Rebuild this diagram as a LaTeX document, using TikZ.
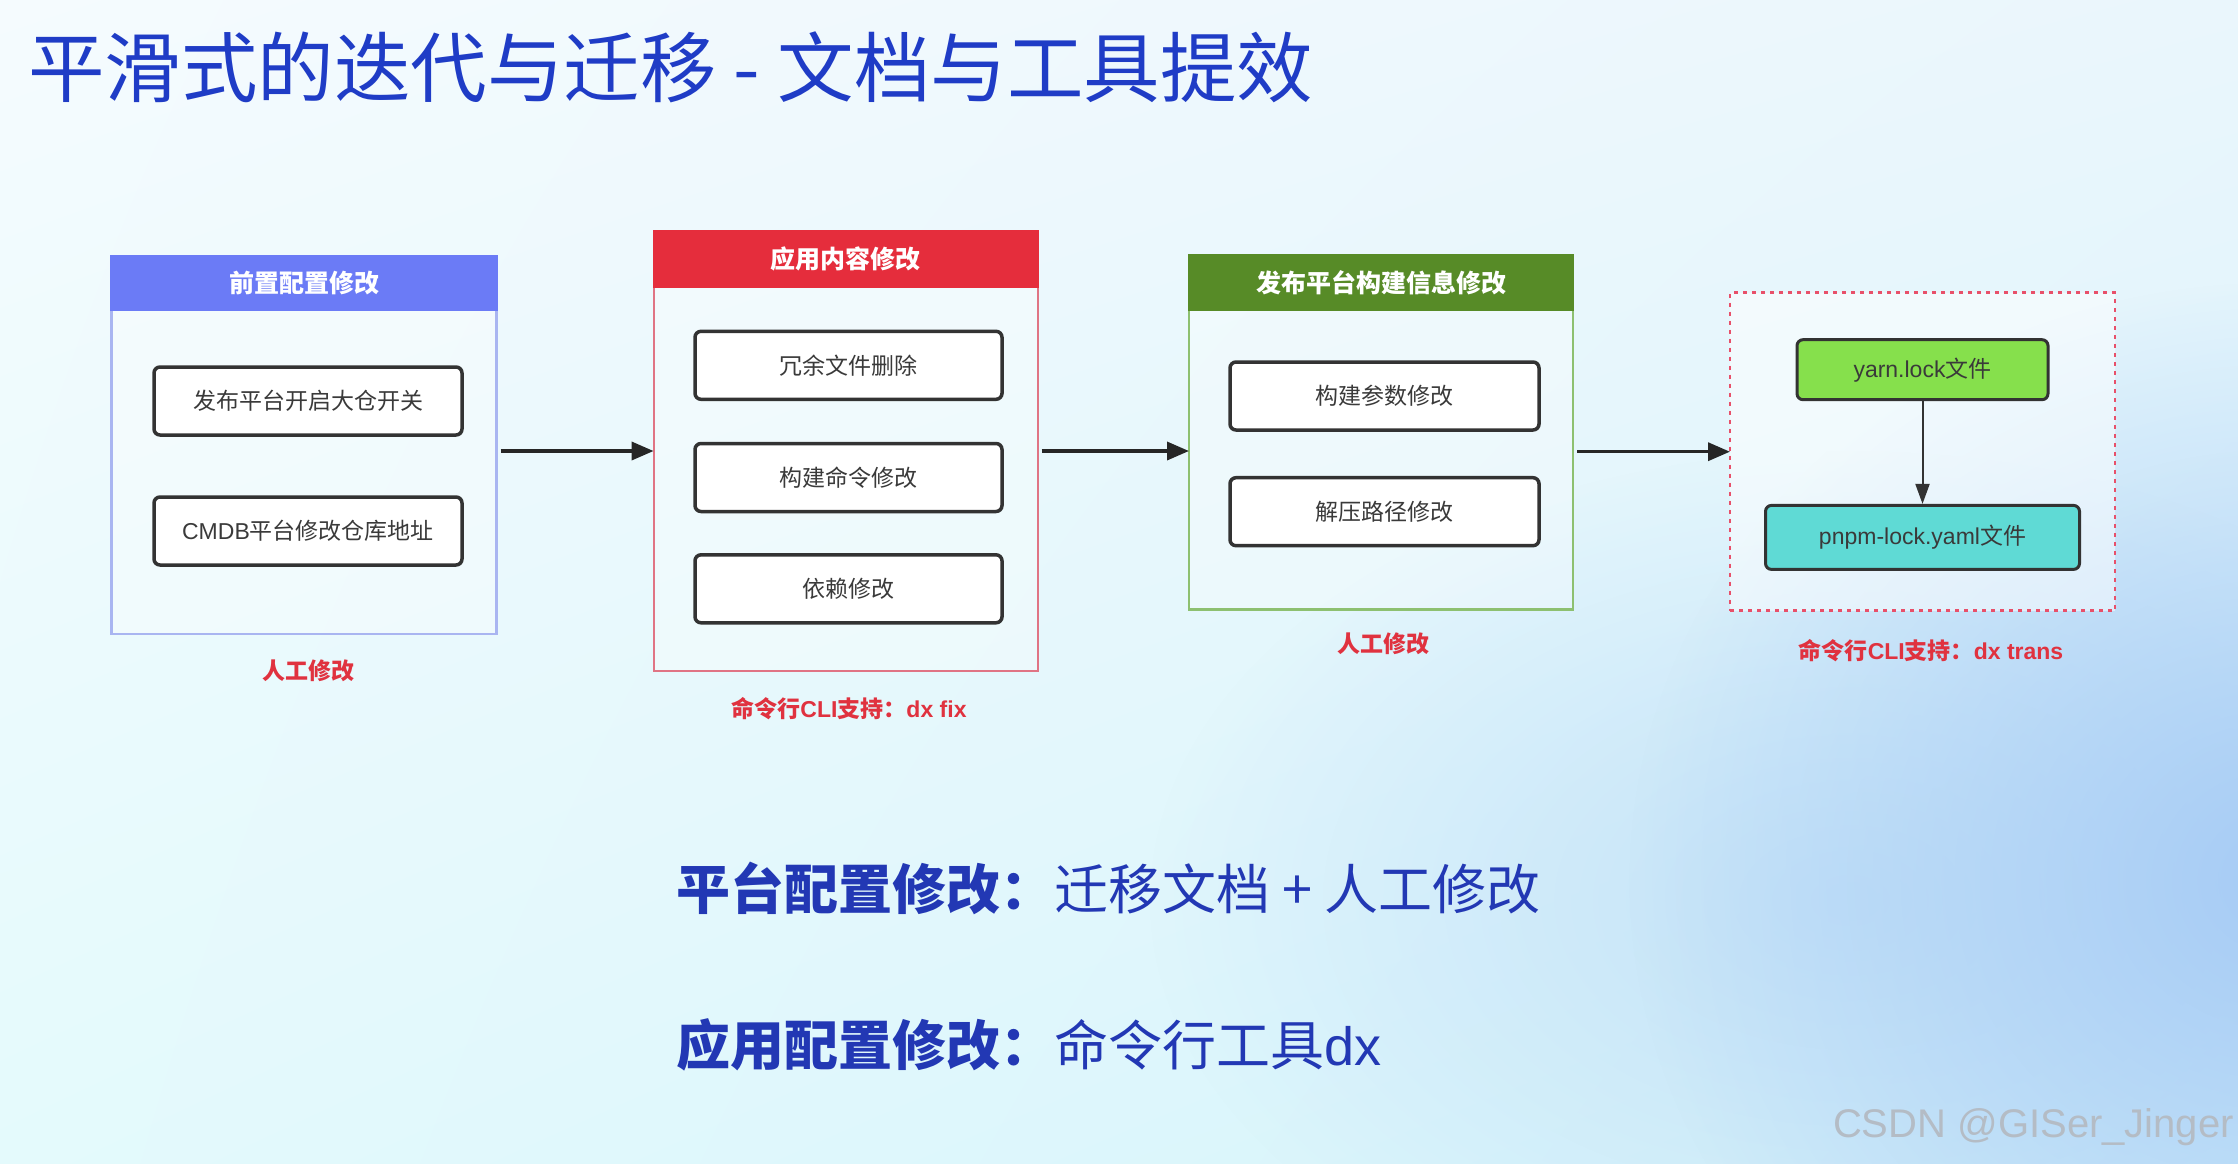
\documentclass[tikz,border=0pt]{standalone}
\usepackage{fontspec}
\setmainfont{Noto Sans CJK SC}
\newfontfamily\lat{Liberation Sans}
\usetikzlibrary{arrows.meta,shadings,fadings}
\definecolor{titleblue}{HTML}{1F3CC6}
\definecolor{bottomblue}{HTML}{2238B4}
\definecolor{hdblue}{HTML}{6B7BF6}
\definecolor{hdred}{HTML}{E52D3C}
\definecolor{hdgreen}{HTML}{578B27}
\definecolor{bdblue}{HTML}{A9B5F1}
\definecolor{bdred}{HTML}{E07484}
\definecolor{bdgreen}{HTML}{8DC070}
\definecolor{dashred}{HTML}{E8506A}
\definecolor{labred}{HTML}{E0323F}
\definecolor{boxline}{HTML}{333333}
\definecolor{innertext}{HTML}{3A3A3A}
\definecolor{yarngreen}{HTML}{86E04C}
\definecolor{pnpmcyan}{HTML}{5FDAD5}
\definecolor{bgUL}{HTML}{F5FBFE}
\definecolor{bgUR}{HTML}{EAF6FC}
\definecolor{bgLL}{HTML}{E4FAFC}
\definecolor{bgLR}{HTML}{D4F2FB}
\definecolor{bgblob}{HTML}{A6CBF5}
\definecolor{bgblobb}{HTML}{C4E2F8}
\definecolor{wmgray}{HTML}{B4BCC5}
\tikzfading[name=blobfade, inner color=transparent!0, outer color=transparent!100]
\begin{document}
\begin{tikzpicture}[x=1pt,y=-1pt,
  outerbox/.style={draw, line width=2.2pt, fill=white, fill opacity=0.3, text opacity=1, outer sep=0pt, inner sep=0pt},
  header/.style={line width=2.2pt, outer sep=0pt, text=white, font=\fontsize{25}{30}\selectfont\bfseries},
  inbox/.style={draw=boxline, line width=3.5pt, rounded corners=6pt, fill=white, text=innertext,
    font=\fontsize{23}{28}\selectfont, minimum height=68pt},
  lab/.style={text=labred, font=\fontsize{23}{28}\selectfont\bfseries},
  flow/.style={line width=3.5pt, draw=black!85, -{Triangle[length=22pt,width=18pt]}, shorten <=4pt},
  bigtext/.style={anchor=west, inner sep=0pt, text=bottomblue, font=\fontsize{54}{60}\selectfont}
]
\useasboundingbox (0,0) rectangle (2238,1163);
\shade[upper left=bgUL, upper right=bgUR, lower left=bgLL, lower right=bgLR] (0,0) rectangle (2238,1163);
\begin{scope}
  \clip (0,0) rectangle (2238,1163);
  \fill[bgblobb, path fading=blobfade] (1850,900) ellipse (700 and 450);
  \fill[bgblob, path fading=blobfade] (2280,880) ellipse (650 and 600);
\end{scope}

% title
\node[anchor=west, inner sep=0pt, text=titleblue, font=\fontsize{76.5}{80}\selectfont] (title) at (28,67)
  {平滑式的迭代与迁移 - 文档与工具提效};

% box 1
\node[outerbox, draw=bdblue, minimum width=385pt, minimum height=378pt] (box1) at (304,444.6) {};
\node[header, fill=hdblue, draw=hdblue, minimum width=385pt, minimum height=54pt, anchor=north] (h1) at (box1.north) {前置配置修改};
\node[inbox, minimum width=308pt] (b1a) at (308,401) {发布平台开启大仓开关};
\node[inbox, minimum width=308pt] (b1b) at (308,531) {{\lat CMDB}平台修改仓库地址};
\node[lab] (l1) at (308,671) {人工修改};

% box 2
\node[outerbox, draw=bdred, minimum width=384pt, minimum height=440pt] (box2) at (845.6,451) {};
\node[header, fill=hdred, draw=hdred, minimum width=384pt, minimum height=56pt, anchor=north] (h2) at (box2.north) {应用内容修改};
\node[inbox, minimum width=307pt] (b2a) at (848.5,365.3) {冗余文件删除};
\node[inbox, minimum width=307pt] (b2b) at (848.5,477.5) {构建命令修改};
\node[inbox, minimum width=307pt] (b2c) at (848.5,588.8) {依赖修改};
\node[lab] (l2) at (849,709) {命令行{\lat CLI}支持：{\lat dx fix}};

% box 3
\node[outerbox, draw=bdgreen, minimum width=384pt, minimum height=354pt] (box3) at (1381,432.5) {};
\node[header, fill=hdgreen, draw=hdgreen, minimum width=384pt, minimum height=54pt, anchor=north] (h3) at (box3.north) {发布平台构建信息修改};
\node[inbox, minimum width=309pt] (b3a) at (1384.5,396) {构建参数修改};
\node[inbox, minimum width=309pt] (b3b) at (1384.5,511.7) {解压路径修改};
\node[lab] (l3) at (1383,644) {人工修改};

% box 4
\node[draw=dashred, line width=2.5pt, dash pattern=on 4pt off 5pt, fill=white, fill opacity=0.5,
  outer sep=0pt, minimum width=385pt, minimum height=318pt] (box4) at (1922.5,451.7) {};
\node[inbox, fill=yarngreen, minimum width=251pt, minimum height=60pt, line width=3pt] (yarn) at (1922.5,369.7) {{\lat yarn.lock}文件};
\node[inbox, fill=pnpmcyan, minimum width=314pt, minimum height=64pt, line width=3pt] (pnpm) at (1922.5,537.4) {{\lat pnpm-lock.yaml}文件};
\node[lab] (l4) at (1931,651) {命令行{\lat CLI}支持：{\lat dx trans}};
\draw[line width=2pt, draw=black!80, -{Triangle[length=20pt,width=14pt]}] (yarn) -- (pnpm);

% flow arrows
\draw[flow] (box1.east |- box2.west) -- (box2.west);
\draw[flow] (box2.east) -- (box3.west |- box2.east);
\draw[flow] (box3.east |- box4.west) -- (box4.west);

% bottom text
\node[bigtext] (s1) at (676,888) {\textbf{平台配置修改：}迁移文档 + 人工修改};
\node[bigtext] (s2) at (676,1045) {\textbf{应用配置修改：}命令行工具{\lat dx}};

% watermark
\node[anchor=east, inner sep=0pt, text=wmgray, font=\lat\fontsize{40}{44}\selectfont] (wm) at (2234,1127) {CSDN @GISer\_Jinger};
\end{tikzpicture}
\end{document}
